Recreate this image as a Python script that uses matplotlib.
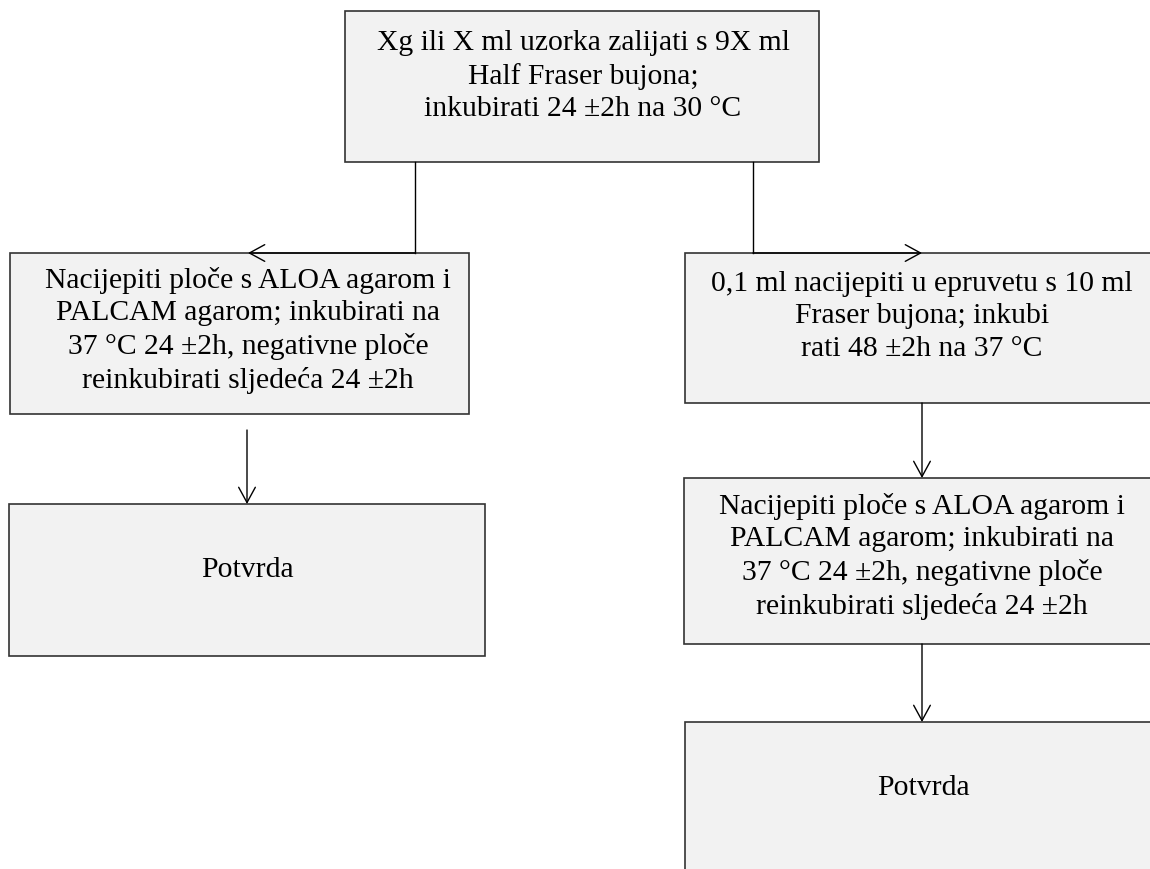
import matplotlib
matplotlib.use("Agg")
from matplotlib import pyplot as plt
from matplotlib.patches import Rectangle

# box texts (flow order)
labels = [
    "Xg ili X ml uzorka zalijati s 9X ml\nHalf Fraser bujona;\ninkubirati 24 \u00b12h na 30 \u00b0C",
    "Nacijepiti plo\u010de s ALOA agarom i\nPALCAM agarom; inkubirati na\n37 \u00b0C 24 \u00b12h, negativne plo\u010de\nreinkubirati sljede\u0107a 24 \u00b12h",
    "0,1 ml nacijepiti u epruvetu s 10 ml\nFraser bujona; inkubi\nrati 48 \u00b12h na 37 \u00b0C",
    "Potvrda",
    "Nacijepiti plo\u010de s ALOA agarom i\nPALCAM agarom; inkubirati na\n37 \u00b0C 24 \u00b12h, negativne plo\u010de\nreinkubirati sljede\u0107a 24 \u00b12h",
    "Potvrda",
]

# box geometry in pixels: left, top, right, bottom
box_left = [345, 10, 685, 9, 684, 685]
box_top = [11, 253, 253, 504, 478, 722]
box_right = [819, 469, 1162, 485, 1162, 1162]
box_bottom = [162, 414, 403, 656, 644, 880]
# where the text goes
text_x = [583, 248, 922, 247, 922, 923]
text_y = [30, 267, 271, 557, 493, 775]

# connectors
elbows = [(415, 162, 415, 253, 248, 253), (753, 162, 753, 253, 922, 253)]
arrows = [(247, 430, 247, 504), (922, 403, 922, 478), (922, 644, 922, 722)]

fig = plt.figure(figsize=(11.5, 8.69), dpi=100)
ax = fig.add_axes([0, 0, 1, 1])
ax.set_xlim(0, 1150)
ax.set_ylim(869, 0)
ax.axis("off")

for i in range(len(labels)):
    r = Rectangle((box_left[i], box_top[i]), box_right[i] - box_left[i],
                  box_bottom[i] - box_top[i], facecolor="#f2f2f2",
                  edgecolor="#333333", linewidth=1.2, zorder=1)
    ax.add_patch(r)
    ax.text(text_x[i], text_y[i], labels[i], ha="center", va="top",
            family="Liberation Serif", fontsize=21.3, linespacing=1.32,
            color="black", zorder=3)

arr = dict(arrowstyle="->,head_length=1.1,head_width=0.6", color="black",
           lw=1.0, shrinkA=0, shrinkB=0, mutation_scale=10)

for (x0, y0, x1, y1, x2, y2) in elbows:
    ax.plot([x0, x1], [y0, y1], color="black", lw=1.0, zorder=2)
    ax.annotate("", xy=(x2, y2), xytext=(x1, y1), arrowprops=arr, zorder=2)

for (x0, y0, x1, y1) in arrows:
    ax.annotate("", xy=(x1, y1), xytext=(x0, y0), arrowprops=arr, zorder=2)

fig.savefig("out.png", dpi=100)
